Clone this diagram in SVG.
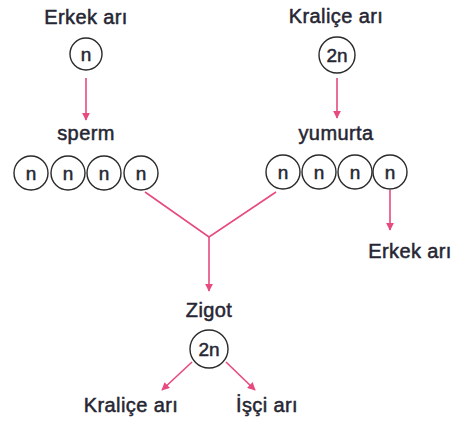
<svg xmlns="http://www.w3.org/2000/svg" width="467" height="421" viewBox="0 0 467 421">
<defs>
<style>
.lbl{font-family:"Liberation Sans",Arial,sans-serif;font-size:20px;fill:#262633;stroke:#262633;stroke-width:0.5;text-anchor:middle;letter-spacing:0.4px}
.cl{font-family:"Liberation Sans",Arial,sans-serif;font-size:19px;fill:#262633;stroke:#262633;stroke-width:0.5;text-anchor:middle}
.c{fill:#fff;stroke:#2a2a2a;stroke-width:1.4}
.ln{fill:none;stroke:#e64a7e;stroke-width:1.6}
</style>
<marker id="ah" viewBox="0 0 10 10" refX="9" refY="5" markerWidth="8" markerHeight="8" markerUnits="userSpaceOnUse" orient="auto">
<path d="M0,0 L10,5 L0,10 Z" fill="#e64a7e"/>
</marker>
</defs>
<rect width="467" height="421" fill="#fff"/>
<g id="connectors">
<line class="ln" x1="86" y1="78" x2="86" y2="120" marker-end="url(#ah)"/>
<line class="ln" x1="337" y1="78" x2="337" y2="118" marker-end="url(#ah)"/>
<line class="ln" x1="390" y1="190" x2="390" y2="230" marker-end="url(#ah)"/>
<polyline class="ln" points="145,192 209,237 276,192"/>
<line class="ln" x1="209" y1="237" x2="209" y2="291" marker-end="url(#ah)"/>
<line class="ln" x1="192" y1="362" x2="162" y2="390" marker-end="url(#ah)"/>
<line class="ln" x1="226" y1="362" x2="255" y2="390" marker-end="url(#ah)"/>
</g>
<g id="erkek-ari-top">
<text class="lbl" x="86" y="24">Erkek arı</text>
<circle class="c" cx="86" cy="54" r="16"/>
<text class="cl" x="86" y="61">n</text>
</g>
<g id="kralice-ari-top">
<text class="lbl" x="336" y="23">Kraliçe arı</text>
<circle class="c" cx="337" cy="55" r="18"/>
<text class="cl" x="337" y="62">2n</text>
</g>
<g id="sperm">
<text class="lbl" x="86" y="140">sperm</text>
<circle class="c" cx="31" cy="173" r="17"/>
<circle class="c" cx="68" cy="173" r="17"/>
<circle class="c" cx="104" cy="173" r="17"/>
<circle class="c" cx="141" cy="173" r="17"/>
<text class="cl" x="31" y="180">n</text>
<text class="cl" x="68" y="180">n</text>
<text class="cl" x="104" y="180">n</text>
<text class="cl" x="141" y="180">n</text>
</g>
<g id="yumurta">
<text class="lbl" x="336" y="140">yumurta</text>
<circle class="c" cx="283" cy="172" r="17"/>
<circle class="c" cx="319" cy="172" r="17"/>
<circle class="c" cx="355" cy="172" r="17"/>
<circle class="c" cx="390" cy="172" r="17"/>
<text class="cl" x="283" y="179">n</text>
<text class="cl" x="319" y="179">n</text>
<text class="cl" x="355" y="179">n</text>
<text class="cl" x="390" y="179">n</text>
</g>
<g id="erkek-ari-bottom">
<text class="lbl" x="410" y="258">Erkek arı</text>
</g>
<g id="zigot">
<text class="lbl" x="209" y="317">Zigot</text>
<circle class="c" cx="209" cy="349" r="19"/>
<text class="cl" x="209" y="356">2n</text>
</g>
<g id="kralice-ari-bottom">
<text class="lbl" x="131" y="412">Kraliçe arı</text>
</g>
<g id="isci-ari">
<text class="lbl" x="267" y="412">İşçi arı</text>
</g>
</svg>
